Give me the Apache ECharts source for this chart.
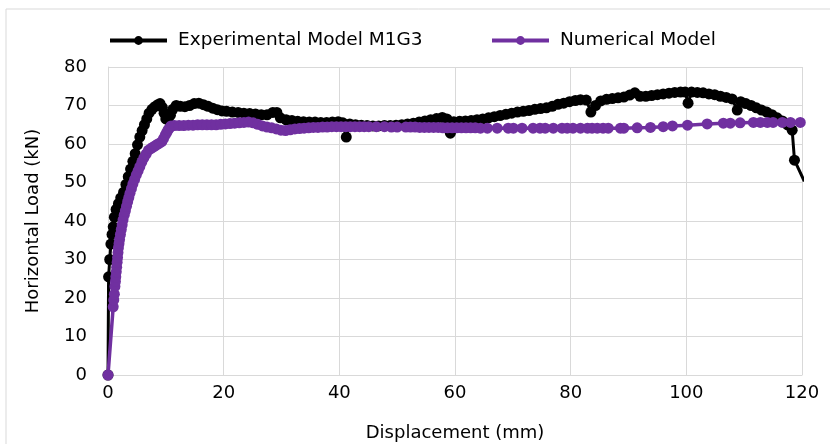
<!DOCTYPE html>
<html>
<head>
<meta charset="utf-8">
<script src="https://cdn.jsdelivr.net/npm/echarts@6/dist/echarts.min.js"></script>
<style>html,body{margin:0;padding:0;background:#fff;}#c{width:830px;height:444px;}</style>
</head>
<body>
<div id="c"></div>
<script>
var expX = [0,0.1,0.3,0.5,0.7,0.9,1.1,1.4,1.8,2.2,2.7,3.1,3.5,3.9,4.3,4.7,5.1,5.5,5.9,6.3,6.7,7.1,7.6,8.1,8.6,9.0,9.4,9.7,10.0,10.4,10.8,11.2,11.8,12.5,13.3,14.1,14.9,15.7,16.5,17.3,18.1,18.9,19.7,20.5,21.5,22.5,23.5,24.5,25.5,26.5,27.5,28.5,29.2,29.8,30.8,31.8,32.8,33.8,34.8,35.8,36.8,37.8,38.8,39.8,40.6,41.2,41.8,42.8,43.8,44.8,45.8,46.8,47.8,48.8,49.8,50.8,51.8,52.8,53.8,54.8,55.8,56.8,57.8,58.6,59.2,59.8,60.8,61.8,62.8,63.8,64.8,65.8,66.8,67.8,68.8,69.8,70.8,71.8,72.8,73.8,74.8,75.8,76.8,77.8,78.8,79.8,80.8,81.7,82.7,83.5,84.3,85.2,86.2,87.2,88.2,89.2,90.2,91.1,92,93,94,95,96,97,98,99,99.8,100.3,100.9,101.9,102.9,103.9,104.9,105.9,106.9,107.9,108.8,109.4,110.3,111.2,112.1,113,113.9,114.8,115.7,116.6,117.5,118.3,118.7,120.4];
var expY = [0,25.5,30,34,36.5,38.5,41,43,44.5,46,47.5,49.5,51.5,53.5,55.5,57.5,59.8,61.8,63.5,65,66.5,68,69,69.7,70.2,70.5,69.5,68,66.5,66.3,67.5,69,70,69.8,69.7,70,70.5,70.6,70.2,69.8,69.3,68.9,68.6,68.5,68.3,68.2,68,67.9,67.8,67.6,67.6,68.2,68.2,66.8,66.3,66.1,65.9,65.8,65.7,65.7,65.6,65.6,65.7,65.8,65.5,61.8,65.2,65,64.9,64.8,64.7,64.7,64.8,64.8,64.9,65,65.2,65.4,65.7,66,66.3,66.6,66.9,66.5,62.8,65.8,65.9,66,66.1,66.3,66.5,66.8,67.1,67.4,67.7,68,68.3,68.5,68.7,69,69.2,69.4,69.8,70.3,70.6,71,71.3,71.5,71.4,68.3,70,71.2,71.6,71.8,72,72.2,72.7,73.3,72.4,72.4,72.6,72.8,73,73.2,73.4,73.5,73.5,70.6,73.5,73.4,73.3,73,72.8,72.4,72.1,71.7,68.8,71,70.5,70,69.4,68.8,68.3,67.6,66.8,66,65,63.6,55.8,50.3];

var numX = [0,0.9,1.0,1.1,1.2,1.28,1.35,1.43,1.5,1.58,1.65,1.73,1.8,1.9,2.0,2.15,2.3,2.45,2.6,2.8,3.0,3.2,3.4,3.6,3.8,4.05,4.3,4.6,4.9,5.2,5.5,5.85,6.2,6.6,7.0,7.4,7.8,8.15,8.5,8.9,9.3,9.6,9.9,10.15,10.4,10.65,10.9,11.5,12.3,13.1,13.9,14.7,15.5,16.3,17.1,17.9,18.7,19.5,20.3,21.1,21.9,22.7,23.5,24.3,25.1,25.9,26.7,27.5,28.3,29.1,29.9,30.7,31.5,32.3,33.1,33.9,34.7,35.5,36.3,37.1,37.9,38.7,39.5,40.3,41.1,41.9,42.7,43.5,44.3,45.1,46.4,47.8,49,50,51.5,52.3,53.1,53.9,54.7,55.5,56.3,57.1,57.9,58.7,59.5,60.3,61.1,61.9,62.7,63.5,64.4,65.6,67.3,69.2,70.1,71.6,73.5,74.7,75.6,77,78.5,79.4,80.4,81.7,82.9,83.7,84.6,85.6,86.5,88.6,89.2,91.5,93.8,96,97.6,100.2,103.6,106.4,107.6,109.3,111.6,112.8,114,115,116.6,118,119.7];
var numY = [0,17.7,19.5,21,23,24.3,25.5,26.8,28,29.3,30.5,31.8,33,34.1,35.2,36.5,37.8,39,40.3,41.5,42.6,43.8,45,46.1,47.2,48.4,49.6,50.8,52,53,54.1,55.3,56.4,57.4,58.4,58.8,59.2,59.5,59.9,60.2,60.6,61.4,62.3,63,63.7,64.2,64.7,64.8,64.8,64.8,64.9,64.9,65,65,65,65,65,65.1,65.2,65.3,65.4,65.5,65.6,65.7,65.5,65.1,64.7,64.4,64.2,63.9,63.6,63.5,63.7,63.9,64,64.1,64.2,64.3,64.3,64.4,64.4,64.5,64.5,64.5,64.5,64.5,64.5,64.5,64.5,64.5,64.5,64.5,64.4,64.4,64.4,64.4,64.4,64.3,64.3,64.3,64.3,64.3,64.2,64.2,64.2,64.2,64.2,64.2,64.2,64.2,64.1,64.1,64.1,64.1,64.1,64.1,64.1,64.1,64.1,64.1,64.1,64.1,64.1,64.1,64.1,64.1,64.1,64.1,64.1,64.1,64.1,64.2,64.3,64.5,64.7,64.9,65.2,65.4,65.4,65.5,65.6,65.6,65.6,65.6,65.6,65.6,65.6];

var seriesNames = ['Experimental Model M1G3', 'Numerical Model'];
var xTitle = 'Displacement (mm)';
var yTitle = 'Horizontal Load (kN)';

function pairs(xs, ys){ var out=[]; for (var i=0;i<xs.length;i++) out.push([xs[i], ys[i]]); return out; }

var FONT = 'DejaVu Sans';
var chart = echarts.init(document.getElementById('c'), null, {renderer:'canvas'});
var legendBase = {
  top: 31, itemWidth: 57, itemHeight: 11, itemGap: 0, padding: 0,
  lineStyle: {width: 4},
  textStyle: {fontFamily: FONT, fontSize: 18.5, color: '#000', padding: [0,0,0,6]}
};
chart.setOption({
  animation: false,
  backgroundColor: '#fff',
  graphic: [{type:'rect', shape:{x:6, y:9, width:900, height:500}, style:{fill:'none', stroke:'#d9d9d9', lineWidth:1}, silent:true}],
  grid: {left: 108, right: 28, top: 67, bottom: 69, containLabel: false, outerBoundsMode: 'none'},
  legend: [
    Object.assign({}, legendBase, {left: 108, data: [seriesNames[0]]}),
    Object.assign({}, legendBase, {left: 490, data: [seriesNames[1]]})
  ],
  xAxis: {
    type: 'value', min: 0, max: 120, interval: 20,
    name: xTitle, nameLocation: 'middle', nameGap: 49,
    nameTextStyle: {fontFamily: FONT, fontSize: 18, color: '#000'},
    axisLine: {show: true, lineStyle: {color: '#d9d9d9', width: 1}},
    axisTick: {show: false},
    axisLabel: {fontFamily: FONT, fontSize: 18, color: '#000', margin: 9},
    splitLine: {show: true, lineStyle: {color: '#d9d9d9', width: 1}}
  },
  yAxis: {
    type: 'value', min: 0, max: 80, interval: 10,
    name: yTitle, nameLocation: 'middle', nameGap: 66,
    nameTextStyle: {fontFamily: FONT, fontSize: 18, color: '#000'},
    axisLine: {show: true, lineStyle: {color: '#d9d9d9', width: 1}},
    axisTick: {show: false},
    axisLabel: {fontFamily: FONT, fontSize: 18, color: '#000', margin: 21},
    splitLine: {show: true, lineStyle: {color: '#d9d9d9', width: 1}}
  },
  series: [
    {
      name: seriesNames[0], type: 'line', data: pairs(expX, expY),
      symbol: 'circle', symbolSize: 11, showAllSymbol: true,
      itemStyle: {color: '#000000'}, lineStyle: {color: '#000000', width: 3},
      clip: true, z: 2
    },
    {
      name: seriesNames[1], type: 'line', data: pairs(numX, numY),
      symbol: 'circle', symbolSize: 11, showAllSymbol: true,
      itemStyle: {color: '#7030A0'}, lineStyle: {color: '#7030A0', width: 3.5},
      clip: true, z: 3
    }
  ]
});
</script>
</body>
</html>
